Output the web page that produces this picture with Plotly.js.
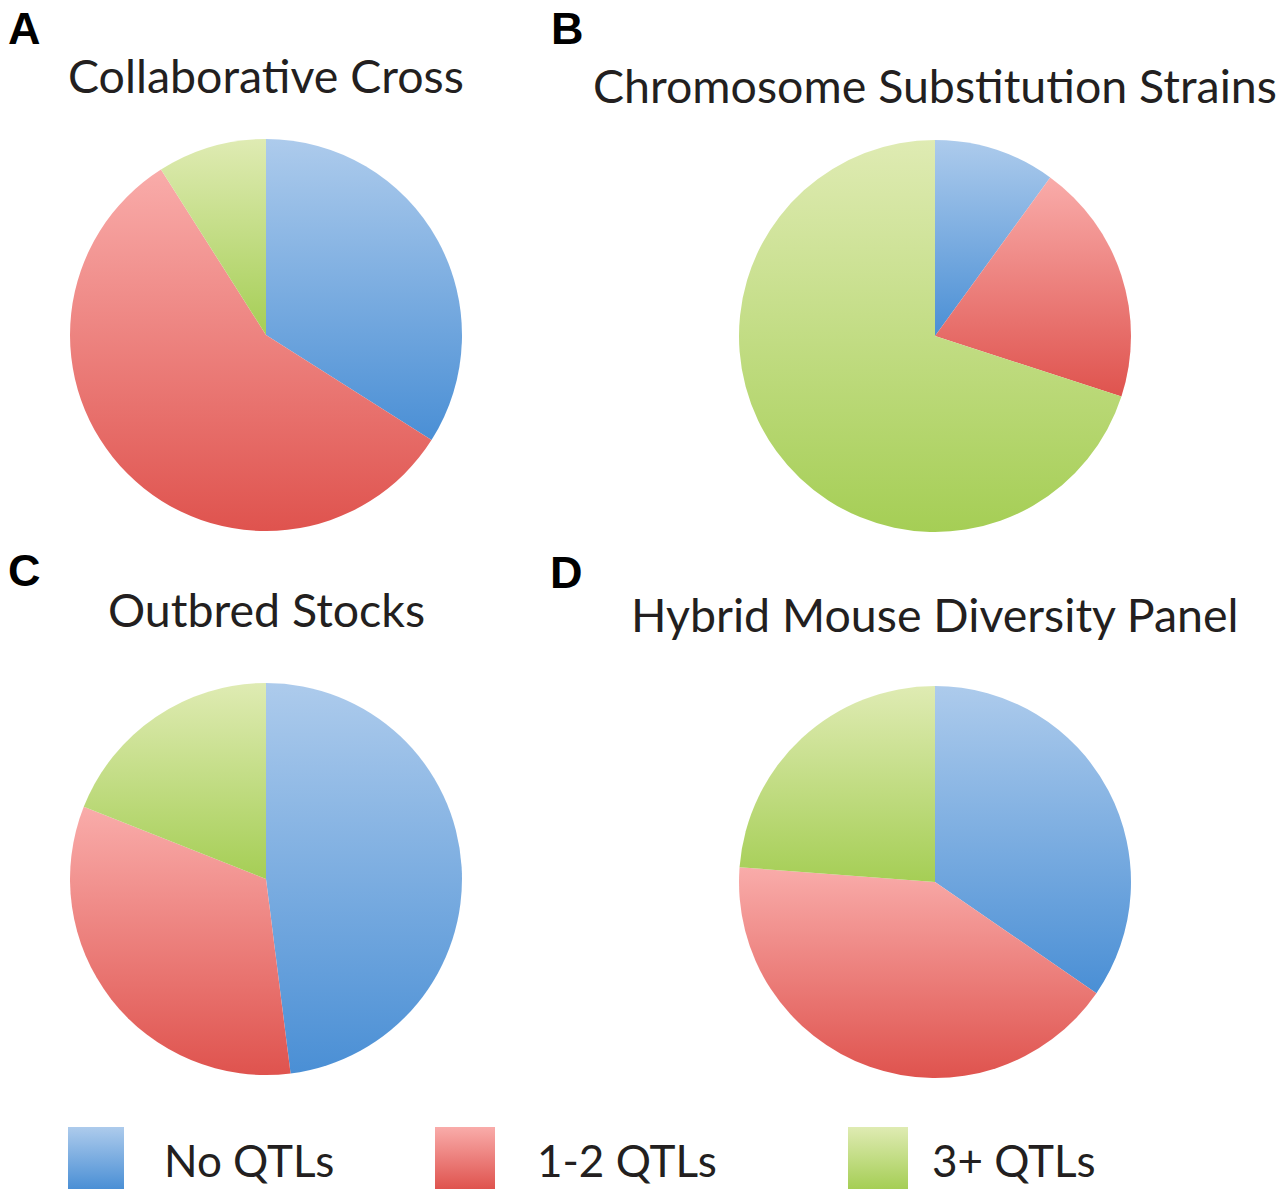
<!DOCTYPE html>
<html>
<head>
<meta charset="utf-8">
<script src="https://cdn.plot.ly/plotly-3.0.1.min.js"></script>
<style>
  html, body { margin: 0; padding: 0; background: #fff; }
  #chart { width: 1280px; height: 1189px; }
</style>
</head>
<body>
<div id="chart"></div>
<script>
// share of traits in each QTL class, per mapping population
const categories = ['No QTLs', '1-2 QTLs', '3+ QTLs'];
const panelLetters = ['A', 'B', 'C', 'D'];
const panelTitles = ['Collaborative Cross', 'Chromosome Substitution Strains', 'Outbred Stocks', 'Hybrid Mouse Diversity Panel'];
const collaborativeCross = [34, 57, 9];
const substitutionStrains = [10, 20, 70];
const outbredStocks = [48, 33, 19];
const hybridDiversity = [34.6, 41.6, 23.8];

const W = 1280, H = 1189;
const px = x => x / W;
const py = y => 1 - y / H;

// flat colours Plotly draws; swapped for top-to-bottom gradients afterwards
const baseColors = ['rgb(122, 174, 225)', 'rgb(236, 126, 122)', 'rgb(194, 221, 130)'];
const gradients = [
  ['#adcbec', '#4a8fd5'],
  ['#f9acaa', '#df534e'],
  ['#dfebb3', '#a5ce55']
];

const panels = [
  { values: collaborativeCross, x: [70, 462], y: [139, 531] },
  { values: substitutionStrains, x: [739, 1131], y: [140, 532] },
  { values: outbredStocks, x: [70, 462], y: [683, 1075] },
  { values: hybridDiversity, x: [739, 1131], y: [686, 1078] }
];

const traces = panels.map(p => ({
  type: 'pie',
  labels: categories,
  values: p.values,
  sort: false,
  direction: 'clockwise',
  rotation: 0,
  textinfo: 'none',
  hoverinfo: 'label+percent',
  showlegend: false,
  marker: { colors: baseColors, line: { width: 0 } },
  domain: { x: [px(p.x[0]), px(p.x[1])], y: [py(p.y[1]), py(p.y[0])] }
}));

const titleFont = { family: 'Lato, "Open Sans", sans-serif', size: 46.5, color: '#231f20' };
const labelFont = { family: 'Lato, "Open Sans", sans-serif', size: 44, color: '#231f20' };
const letterFont = { family: '"Liberation Sans", Arial, sans-serif', size: 45, color: '#000', weight: 'bold' };

const letterPos = [[24, 28], [567, 28], [24, 570], [566, 572]];
const titlePos = [[266, 75], [935, 85], [266, 609], [935, 614]];

const annotations = [];
panelLetters.forEach((l, i) => {
  annotations.push({ text: l, x: px(letterPos[i][0]), y: py(letterPos[i][1]), xref: 'paper', yref: 'paper',
    showarrow: false, xanchor: 'center', yanchor: 'middle', font: letterFont });
  annotations.push({ text: panelTitles[i], x: px(titlePos[i][0]), y: py(titlePos[i][1]), xref: 'paper', yref: 'paper',
    showarrow: false, xanchor: 'center', yanchor: 'middle', font: titleFont });
});

// legend: swatch boxes + labels
const swatchX = [[68, 124], [435, 495], [848, 908]];
const labelX = [162, 535, 930];
const shapes = categories.map((c, i) => ({
  type: 'rect', xref: 'paper', yref: 'paper',
  x0: px(swatchX[i][0]), x1: px(swatchX[i][1]), y0: 0, y1: py(1127),
  fillcolor: baseColors[i], line: { width: 0 }
}));
categories.forEach((c, i) => {
  annotations.push({ text: c, x: px(labelX[i]), y: py(1160), xref: 'paper', yref: 'paper',
    showarrow: false, xanchor: 'left', yanchor: 'middle', font: labelFont });
});

const layout = {
  width: W, height: H,
  margin: { t: 0, r: 0, b: 0, l: 0 },
  paper_bgcolor: '#fff',
  annotations: annotations,
  shapes: shapes
};

Plotly.newPlot('chart', traces, layout, { displayModeBar: false }).then(gd => {
  const ns = 'http://www.w3.org/2000/svg';
  const defs = gd.querySelector('svg.main-svg defs');
  gradients.forEach((g, i) => {
    const lg = document.createElementNS(ns, 'linearGradient');
    lg.setAttribute('id', 'qtl-grad-' + i);
    lg.setAttribute('x1', '0'); lg.setAttribute('y1', '0');
    lg.setAttribute('x2', '0'); lg.setAttribute('y2', '1');
    [[0, g[0]], [1, g[1]]].forEach(s => {
      const stop = document.createElementNS(ns, 'stop');
      stop.setAttribute('offset', s[0]);
      stop.setAttribute('stop-color', s[1]);
      lg.appendChild(stop);
    });
    defs.appendChild(lg);
  });
  gd.querySelectorAll('path').forEach(p => {
    const k = baseColors.indexOf(p.style.fill);
    if (k >= 0) p.style.fill = 'url(#qtl-grad-' + k + ')';
  });
});
</script>
</body>
</html>
